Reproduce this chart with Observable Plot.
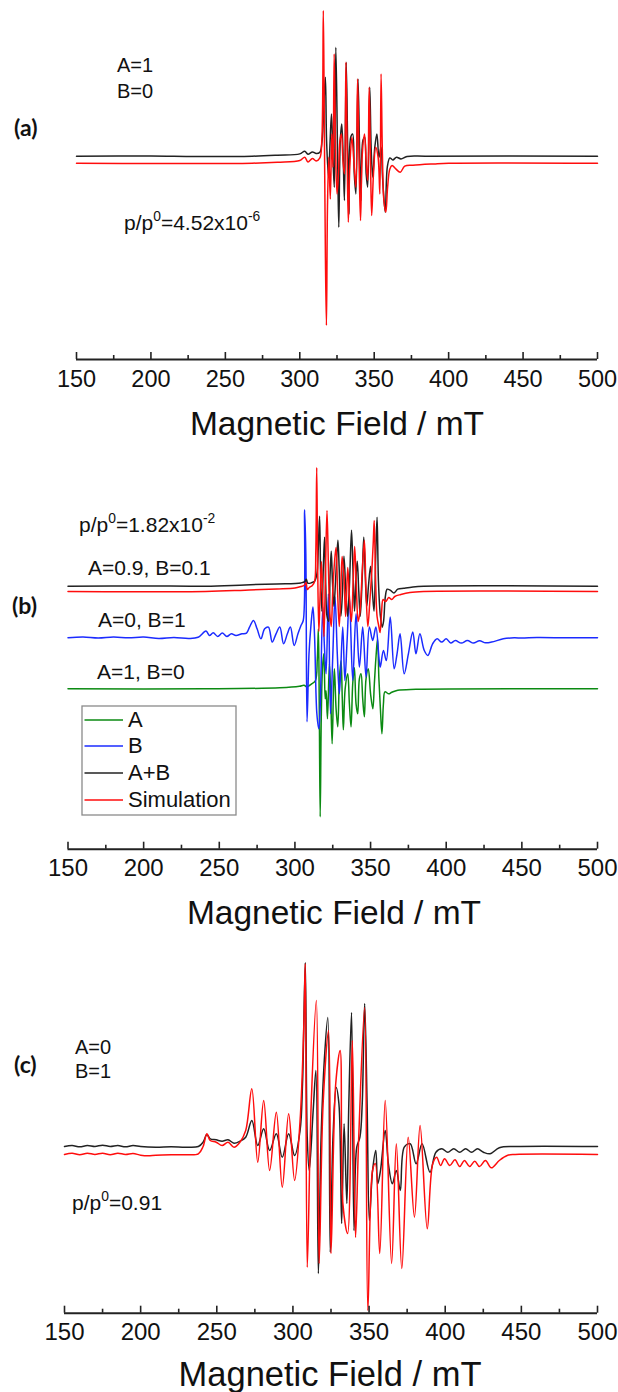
<!DOCTYPE html>
<html><head><meta charset="utf-8">
<script src="https://cdn.jsdelivr.net/npm/d3@7"></script>
<script src="https://cdn.jsdelivr.net/npm/@observablehq/plot@0.6"></script>
<style>
body{margin:0;background:#fff;}
#root{position:relative;width:618px;height:1392px;overflow:hidden;background:#fff;}
#root svg{position:absolute;left:0;}
</style></head><body><div id="root"></div>
<script>
// ---------- data ----------
const fieldTicks = [150, 200, 250, 300, 350, 400, 450, 500];
const minorTicks = [175, 225, 275, 325, 375, 425, 475];
const axisTitle = "Magnetic Field / mT";
const legendLabels = ["A", "B", "A+B", "Simulation"];

// panel (a): [field mT, intensity a.u.]
const aExp = [[150,0],[200,0.3],[230,-0.3],[268,0],[285,1],[300,2.3],[303.3,5],[305.5,2],[308.5,4.3],[311,2.7],[313.5,4],[315,15.7],[316.3,55.7],[317.2,79],[318,15.7],[319.3,-21],[320.3,12.3],[321.3,42.3],[322.3,-1],[323.2,-31],[324.2,109],[325.3,12.3],[326.2,-71],[327.2,15.7],[328.2,32.3],[329.2,-4.3],[330,-44.3],[331.2,94],[332.2,5.7],[333,-57.7],[334.2,19],[335.5,22.3],[336.6,-17.7],[337.7,-37.7],[339.1,77.3],[340.2,5.7],[341.1,-44.3],[342.4,15.7],[343.6,19],[344.6,-17.7],[345.6,-31],[347,69],[348,5.7],[349,-21],[350.4,9],[351.8,22.3],[353.2,-1],[354.6,9],[355.6,-21],[357.4,-56],[358.8,-11],[360.5,-1.7],[362.5,-3.7],[365,-1],[368,-2.7],[372,-0.3],[385,0],[500,0]];
const aSim = [[150,0],[200,-0.3],[268,0],[285,1],[300,2.7],[303.3,6],[305.5,1.3],[308.5,4.7],[311,2.3],[313.5,5.3],[314.8,22.7],[315.8,152.7],[316.4,56],[317.2,-90.7],[317.9,-162.3],[318.6,-44],[319.5,6],[320.5,-35.7],[321.5,29.3],[322.3,-4],[323.1,109.3],[324,19.3],[325,-30.7],[326,-10.7],[327,22.7],[328,29.3],[329,2.7],[330,-10.7],[331,101],[331.8,12.7],[332.6,-59],[333.6,-4],[335,26],[336.3,2.7],[337.7,-24],[338.8,84.3],[339.8,2.7],[340.8,-57.3],[342,9.3],[343.5,29.3],[344.5,2.7],[345.6,-17.3],[346.6,76],[347.5,2.7],[348.3,-52.3],[349.5,-10.7],[351,16],[352.6,6],[353.8,-30.7],[354.6,89.3],[355.5,9.3],[356.5,-37.3],[357.8,-49],[359,-24],[360.5,-5.7],[362,-2.3],[364.5,-5.7],[367.5,-9],[370.5,-3],[376,-2],[390,-0.7],[400,0],[500,0]];

// panel (b)
const bA = [[150,0],[240,0],[290,1],[303,2.5],[306,3.5],[308,2],[311,5],[313.5,8],[314.8,30],[315.5,60],[316.1,-20],[316.7,-128],[317.4,-30],[318.2,20],[319.1,35],[320,-10],[320.6,-2],[321.5,-30],[322.8,25],[323.7,-10],[324.6,-55],[325.5,0],[326.1,20],[327.2,-20],[328.3,-38],[329.4,10],[330.5,28],[331.3,-10],[332,-41],[333.2,0],[334.9,15],[336,-15],[337.1,-38],[338.2,5],[339.3,21],[340.4,-15],[341.5,-25],[342.6,10],[343.7,15],[344.8,-10],[345.9,-28],[347,10],[348.5,20],[350,-5],[351.5,-20],[352.5,5],[353.5,30],[354.6,50],[355.5,10],[356.5,-20],[357.5,-45],[358.5,-15],[359.5,-3],[362,-5],[364,-3.5],[368,-1.5],[380,-0.5],[500,0]];
const bB = [[150,0],[160,0.7],[170,-0.3],[180,0.7],[190,0],[200,0.7],[210,-0.7],[220,0.3],[230,-0.7],[236,0.5],[241.2,6.7],[243.5,2.3],[246,5],[249,1.3],[252,4.7],[255,1.3],[258,4],[261,2.3],[265,4],[268,4.7],[270,10.7],[272.6,17.3],[275,9],[277.5,-1],[280,9],[282.5,10.7],[285,-4.3],[287.5,4],[290,10.7],[292.5,-6],[295,4],[297,10.7],[299.5,-7.7],[302,4],[304,12.3],[305.5,17.3],[306.4,128],[307.2,84],[308,-84],[309.3,-16],[310.5,10.7],[311.9,30.7],[313,0.7],[314.5,-76],[315.8,-91],[316.7,-69],[318.4,30.7],[319.5,-9],[320.6,-36],[322.1,44],[323.5,-76],[325,-19],[326.5,40.7],[328,-16],[329.4,-56],[331.6,10.7],[333,-42.7],[334.5,-2.7],[336,40.7],[338.2,-42.7],[340.4,24],[342.6,-29.3],[344.8,10.7],[347,-39.3],[349.2,10.7],[351.4,-2.7],[353.5,10.7],[355.7,-22.7],[356.4,-29.3],[358.5,-12.7],[360.4,-22.7],[363,20.7],[365.6,-31],[367.5,-16],[369.5,4],[372.2,-36],[375,-16],[377.9,5.7],[380,-16],[382.6,4],[385.5,-12.7],[387.9,-17.7],[391,-6],[394,-1],[397,-4.3],[400,-1],[403,-5.3],[406,-2.7],[410,-5.3],[414,-2.7],[418,-5.3],[422,-3],[426,-5],[430,-4.3],[437.7,-1],[445,0],[450,-0.3],[460,0.3],[480,0],[500,0]];
const bAB = [[150,0],[200,0.3],[241,0],[267,1.3],[288,2.3],[304,3.3],[306.5,4.5],[307.5,7],[308.5,3],[311,3.5],[313,5],[314.5,12],[315.5,40],[316.3,70],[317,10],[317.8,-25],[318.8,20],[319.6,49],[320.4,0],[321.2,-30],[322.3,-35],[323.2,10],[324,35],[324.8,5],[325.8,-20],[327,10],[328.4,46],[329.2,20],[330.4,-30],[331.3,-10],[332.4,30],[333.5,0],[334.8,-30],[336,0],[337.4,56],[338.3,20],[339.4,-25],[340.4,10],[341.2,25],[342.2,-5],[343.2,-30],[344.5,10],[345.5,49],[346.5,10],[347.5,-20],[348.6,0],[350,20],[351.2,-5],[352.3,-25],[353.4,30],[354.3,69],[355.2,5],[356.5,-30],[357.7,-41],[358.6,-35],[359.8,-10],[361,-3],[363,-4],[365.5,-6.7],[368,-3],[372,-2],[378,-0.7],[385,0],[500,0]];
const bSim = [[150,0],[241,0],[267,1.3],[288,2.5],[300,3.5],[304,5],[306,6],[307.3,9],[308.2,2],[309.5,4],[311.5,6],[313,10],[313.8,40],[314.4,124],[315,30],[315.8,-40],[316.5,-10],[317.5,30],[318.5,-15],[319.2,-45],[320.2,20],[321.2,81],[322.2,20],[323,-20],[324,-35],[325,0],[326.2,30],[327.2,44],[328.2,0],[329.3,-35],[330.3,0],[331.2,35],[332.4,15],[333.5,-25],[334.9,24],[336,-5],[337.3,-30],[338.5,10],[339.5,45],[340.6,5],[341.8,-30],[343,-20],[344.5,20],[345.9,51],[347,0],[348.2,-35],[349.5,-10],[350.8,20],[351.8,50],[352.4,71],[353.2,20],[354.3,-25],[355.5,-35],[356.3,-41],[357.3,-20],[358.3,-8],[360,-10],[362,-6],[364,-8],[366,-5],[370,-3],[376,-1],[385,0],[500,0]];

// panel (c)
const cExp = [[150,0],[155,1],[160,-0.3],[165,1],[170,0],[175,1.3],[180,0],[185,1],[190,-0.3],[195,1],[200,0],[210,-0.7],[220,-0.3],[230,-0.7],[237.9,0],[241,4.3],[243.5,12],[245.7,7.7],[249.6,6.7],[253.5,5.3],[257.4,6.7],[261.3,3.3],[265.2,5.3],[269,9.3],[273,26],[276.9,1],[280.8,17.7],[284.7,-4],[289.1,12.7],[293,-10.7],[297.2,12.7],[301.1,-9],[304.7,16],[306.3,62.7],[308.1,184],[309.4,9],[310.7,-24],[313.3,36],[315.1,76],[316.7,-127],[318.5,9],[320.6,86],[322.9,129],[324.5,-105.7],[326.3,9],[328.4,59],[330.2,42.7],[332,-77],[333.6,22.7],[335.4,-57],[336.7,42.7],[338.5,134],[340.1,-84],[341.9,-0.7],[344,9.3],[345.5,42.7],[347.1,143],[348.7,42.7],[350.2,-74],[352.3,-24],[354.4,-4],[355.7,-37.3],[357.5,-24],[360.6,16],[362.7,-17.3],[365.3,-37.3],[367.9,-24],[370.5,-44],[373.1,-0.7],[377,2.7],[380.9,-17.3],[384.8,2.7],[390,-25.7],[393.9,-5.7],[397.8,-2.3],[401.7,-5.7],[405.6,-2.3],[409.5,-5.7],[413.4,-2.3],[417.3,-5.7],[421.2,-2.3],[425.1,-5.7],[429.5,-7.3],[435.5,-1.3],[445.9,0],[500,0]];
const cSim = [[150,0],[155,1.3],[160,-0.3],[165,1.3],[170,0],[175,1.3],[180,-0.3],[185,1.3],[190,0],[195,1],[200,-0.7],[205,-1.3],[210,-0.7],[220,-0.3],[230,-0.3],[237.9,0.7],[241,8],[243.5,20.7],[245.7,14],[249.6,12.3],[253.5,9],[257.4,12.3],[261.3,7.3],[265.2,12.3],[269,24],[273,65.7],[276.9,-7.7],[280.8,54],[284.7,-16],[289.1,42.3],[293,-32.7],[297.2,40.7],[301.1,-26],[304.7,34],[307.3,137],[308.1,190.7],[309.4,-112.7],[312,50.7],[315.4,154],[317.2,-109],[319.8,50],[323.4,124],[325,-99],[328.1,70.7],[331,104],[332.8,-49],[335.9,-79],[339,114],[341.1,-83],[343.2,17],[347.1,147],[349.2,-156],[352.3,-16],[354.1,-9],[357,-99],[360.6,54],[364.8,-109],[367.9,10.7],[371.5,-114],[375.7,17.3],[379.8,-62.7],[383.5,29],[388.2,-74.3],[391.8,-9.3],[394.4,-2.7],[397,-11],[399.6,-4.3],[403,-11],[406.4,-5.3],[409.5,-12],[412.6,-6],[416,-12],[419.4,-6.7],[422.5,-12],[426.4,-6],[430.3,-13.3],[435.5,-6],[440.7,-1],[445.9,0],[500,0]];

// ---------- styling ----------
const FONT = "'Liberation Sans', Arial, Helvetica, sans-serif";
const COL = {black: "#222222", red: "#ff0d0d", blue: "#1b2bff", green: "#0b8a12"};
const root = document.getElementById("root");

function panel({top, height, axisY, left, right, yTop, series, tickFont, tickPad}) {
  const innerH = axisY;
  const yDomain = [yTop - innerH, yTop];
  const marks = series.map(s => Plot.line(s.data, {
    x: d => d[0], y: d => d[1] + s.offset, stroke: s.color, strokeWidth: 1.5, curve: "catmull-rom"
  }));
  marks.push(Plot.ruleY([yDomain[0]], {stroke: "#222", strokeWidth: 2}));
  marks.push(Plot.tickX(fieldTicks, {x: d => d, insetTop: innerH - 7, stroke: "#222", strokeWidth: 1.6}));
  marks.push(Plot.tickX(minorTicks, {x: d => d, insetTop: innerH - 4, stroke: "#222", strokeWidth: 1.6}));
  marks.push(Plot.axisX({ticks: fieldTicks, anchor: "bottom", tickSize: 0, tickPadding: tickPad, fontSize: tickFont, label: null, fill: "#111"}));
  const svg = Plot.plot({
    width: 618, height, marginTop: 0, marginBottom: height - axisY, marginLeft: left, marginRight: 618 - right,
    x: {domain: [150, 500]},
    y: {domain: yDomain, axis: null},
    style: {fontFamily: FONT, color: "#111", background: "transparent", overflow: "visible"},
    marks
  });
  svg.style.top = top + "px";
  root.appendChild(svg);
}

panel({top: 0, height: 445, axisY: 359, left: 76, right: 597, yTop: 155.7, tickFont: 23.5, tickPad: 11,
  series: [{data: aExp, offset: 0, color: COL.black}, {data: aSim, offset: -7, color: COL.red}]});
panel({top: 445, height: 490, axisY: 403.7, left: 67.5, right: 597, yTop: 140.7, tickFont: 24, tickPad: 10,
  series: [{data: bA, offset: -102.6, color: COL.green}, {data: bB, offset: -51.6, color: COL.blue},
           {data: bAB, offset: 0, color: COL.black}, {data: bSim, offset: -5.3, color: COL.red}]});
panel({top: 935, height: 457, axisY: 377.7, left: 64, right: 597, yTop: 211, tickFont: 24, tickPad: 10,
  series: [{data: cExp, offset: 0, color: COL.black}, {data: cSim, offset: -8, color: COL.red}]});

// ---------- annotations ----------
const ov = d3.select(root).append("svg").attr("width", 618).attr("height", 1392)
  .style("top", "0px").style("font-family", FONT).attr("fill", "#111");

function txt(x, y, s, size, opts = {}) {
  const t = ov.append("text").attr("x", x).attr("y", y).attr("font-size", size);
  if (opts.anchor) t.attr("text-anchor", opts.anchor);
  if (opts.bold) t.attr("font-weight", "bold").attr("font-family", "Lato, 'Open Sans', sans-serif");
  t.text(s);
  return t;
}
function ratio(x, y, size, value, exp) {
  const t = ov.append("text").attr("x", x).attr("y", y).attr("font-size", size);
  t.append("tspan").text("p/p");
  t.append("tspan").attr("font-size", size * 0.66).attr("dy", -size * 0.42).text("0");
  t.append("tspan").attr("dy", size * 0.42).text("=" + value);
  if (exp) t.append("tspan").attr("font-size", size * 0.66).attr("dy", -size * 0.42).text(exp);
}

// (a)
txt(14, 136, "(a)", 23, {bold: true});
txt(117, 72, "A=1", 20);
txt(117, 98, "B=0", 20);
ratio(124, 230, 21, "4.52x10", "-6");
txt(337, 435, axisTitle, 33.5, {anchor: "middle"});

// (b)
ratio(79, 532, 21, "1.82x10", "-2");
txt(88, 575, "A=0.9, B=0.1", 21);
txt(12, 614, "(b)", 23, {bold: true});
txt(98, 627, "A=0, B=1", 21);
txt(97, 679, "A=1, B=0", 21);
txt(334, 924, axisTitle, 33.5, {anchor: "middle"});

// legend (b)
const legendColors = [COL.green, COL.blue, COL.black, COL.red];
ov.append("rect").attr("x", 82).attr("y", 706).attr("width", 154).attr("height", 109)
  .attr("fill", "none").attr("stroke", "#8a8a8a").attr("stroke-width", 1.3);
const legendBase = [727, 753, 780, 807];
legendLabels.forEach((lab, i) => {
  ov.append("line").attr("x1", 84.5).attr("x2", 123).attr("y1", legendBase[i] - 7).attr("y2", legendBase[i] - 7)
    .attr("stroke", legendColors[i]).attr("stroke-width", 1.6);
  txt(128, legendBase[i], lab, 22);
});

// (c)
txt(14, 1073, "(c)", 23, {bold: true});
txt(75, 1054, "A=0", 20);
txt(75, 1078, "B=1", 20);
ratio(72, 1210, 21, "0.91", null);
txt(330, 1386, axisTitle, 34.5, {anchor: "middle"});
</script></body></html>
